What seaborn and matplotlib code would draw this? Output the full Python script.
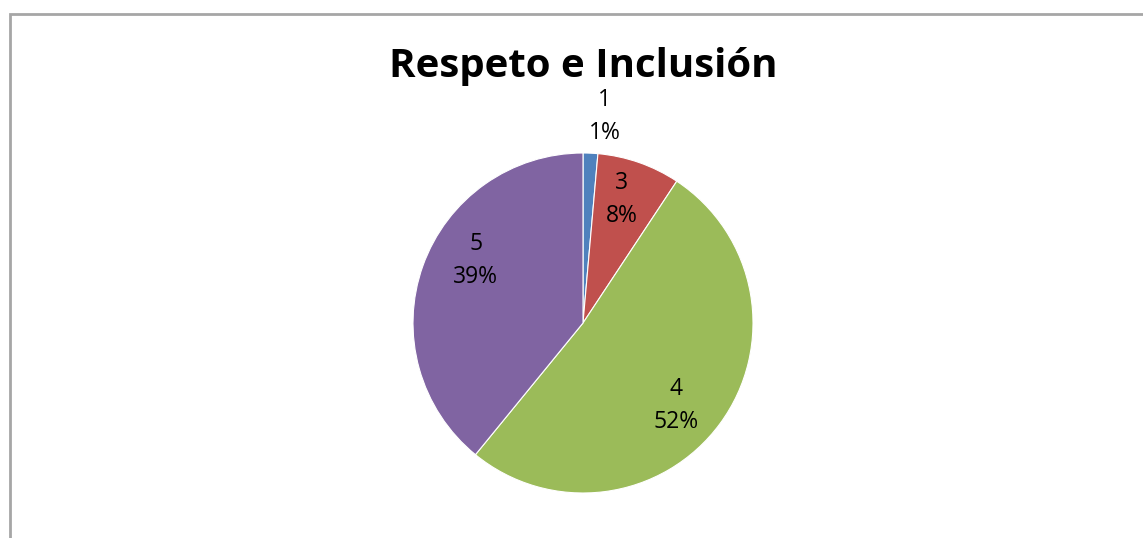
import numpy as np
import matplotlib
matplotlib.use("Agg")
import matplotlib.pyplot as plt
import seaborn as sns
from matplotlib.patches import Rectangle

categories = ["1", "3", "4", "5"]
percents = [1.4, 7.9, 51.6, 39.1]
colors = ["#4F81BD", "#C0504D", "#9BBB59", "#8064A2"]
title = "Respeto e Inclusión"

sns.set_theme(style="white")
plt.rcParams['font.family'] = ['Open Sans', 'DejaVu Sans']

W, H = 1143, 538
fig = plt.figure(figsize=(W / 100, H / 100), dpi=100)
fig.patch.set_facecolor("white")

# outer frame (cut off at right and bottom)
fig.patches.append(Rectangle((10 / W, -0.2), 1.2, (H - 14) / H + 0.2,
                             transform=fig.transFigure, fill=False,
                             edgecolor="#A6A6A6", linewidth=2))

cx, cy, r = 583, H - 323, 170
ax = fig.add_axes([(cx - r) / W, (cy - r) / H, 2 * r / W, 2 * r / H])
wedges, _ = ax.pie(percents, colors=colors, startangle=90, counterclock=False,
                   radius=1, wedgeprops=dict(edgecolor="white", linewidth=0.8))
ax.set_xlim(-1, 1)
ax.set_ylim(-1, 1)
ax.set_aspect("equal")
ax.axis("off")

# label placement (distance from centre, angle tweak in degrees)
label_dist = [1.22, 0.76, 0.73, 0.73]
label_turn = [-3.5, 1.7, -5, -10.5]
for w, cat, p, d, t in zip(wedges, categories, percents, label_dist, label_turn):
    ang = np.deg2rad((w.theta1 + w.theta2) / 2 + t)
    x, y = d * np.cos(ang), d * np.sin(ang)
    ax.text(x, y, f"{cat}\n{round(p)}%", ha="center", va="center",
            fontsize=16.5, color="black", linespacing=1.5, clip_on=False)

fig.text(cx / W, 1 - 67 / H, title, ha="center", va="center",
         fontsize=29, fontweight="bold", color="black")

fig.savefig("out.png", dpi=100, facecolor="white")
